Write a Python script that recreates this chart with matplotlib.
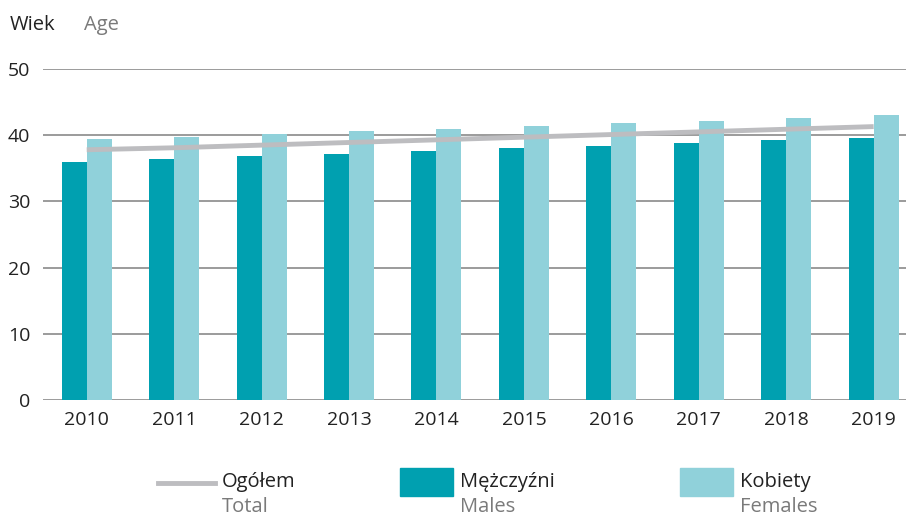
import numpy as np
import matplotlib
matplotlib.use("Agg")
import matplotlib.pyplot as plt
from matplotlib.patches import Rectangle
from matplotlib.lines import Line2D

plt.rcParams["font.family"] = ["Open Sans", "DejaVu Sans"]

years = ["2010", "2011", "2012", "2013", "2014", "2015", "2016", "2017", "2018", "2019"]
males = [36.0, 36.4, 36.8, 37.2, 37.6, 38.0, 38.4, 38.8, 39.2, 39.6]
females = [39.4, 39.8, 40.2, 40.6, 41.0, 41.4, 41.8, 42.2, 42.6, 43.0]
total = [37.8, 38.1, 38.5, 38.9, 39.3, 39.7, 40.1, 40.5, 40.9, 41.3]

C_MALE = "#00A0B0"
C_FEMALE = "#90D1DA"
C_TOTAL = "#BDBDC0"
C_GRAY = "#7A7A7A"

W, H = 906, 516
fig = plt.figure(figsize=(W / 100, H / 100), dpi=100)
ax = fig.add_axes([43 / W, 1 - 400 / H, 1 - 43 / W, (400 - 69) / H])

x = np.arange(len(years))
bw = 0.286
ax.bar(x - bw / 2, males, bw, color=C_MALE, zorder=2)
ax.bar(x + bw / 2, females, bw, color=C_FEMALE, zorder=2)
ax.plot(x, total, color=C_TOTAL, lw=3.5, solid_capstyle="butt", zorder=3)

ax.set_ylim(0, 50)
ax.set_xlim(-0.5, 9.37)
ax.set_yticks([0, 10, 20, 30, 40, 50])
ax.set_xticks(x)
ax.set_xticklabels(years)
ax.yaxis.grid(True, color="#808080", lw=1.1, zorder=1)
ax.set_axisbelow(True)
for s in ax.spines.values():
    s.set_visible(False)
ax.tick_params(length=0, labelsize=14, colors="#222222")
ax.tick_params(axis="y", pad=9)
ax.tick_params(axis="x", pad=8)

fig.text(10 / W, 1 - 25 / H, "Wiek", fontsize=14.5, color="#222222", va="center")
fig.text(84 / W, 1 - 25 / H, "Age", fontsize=14.5, color=C_GRAY, va="center")

# legend
fig.add_artist(Line2D([158 / W, 215 / W], [1 - 483 / H, 1 - 483 / H],
                      color=C_TOTAL, lw=3.5, transform=fig.transFigure))
fig.add_artist(Rectangle((400 / W, 1 - 496 / H), 53 / W, 28 / H,
                         color=C_MALE, transform=fig.transFigure))
fig.add_artist(Rectangle((680 / W, 1 - 496 / H), 53 / W, 28 / H,
                         color=C_FEMALE, transform=fig.transFigure))
for xp, pl, en in [(222, "Ogółem", "Total"), (460, "Mężczyźni", "Males"),
                   (740, "Kobiety", "Females")]:
    fig.text(xp / W, 1 - 482 / H, pl, fontsize=14.5, color="#222222", va="center")
    fig.text(xp / W, 1 - 507 / H, en, fontsize=14.5, color=C_GRAY, va="center")

fig.savefig("out.png", dpi=100)
